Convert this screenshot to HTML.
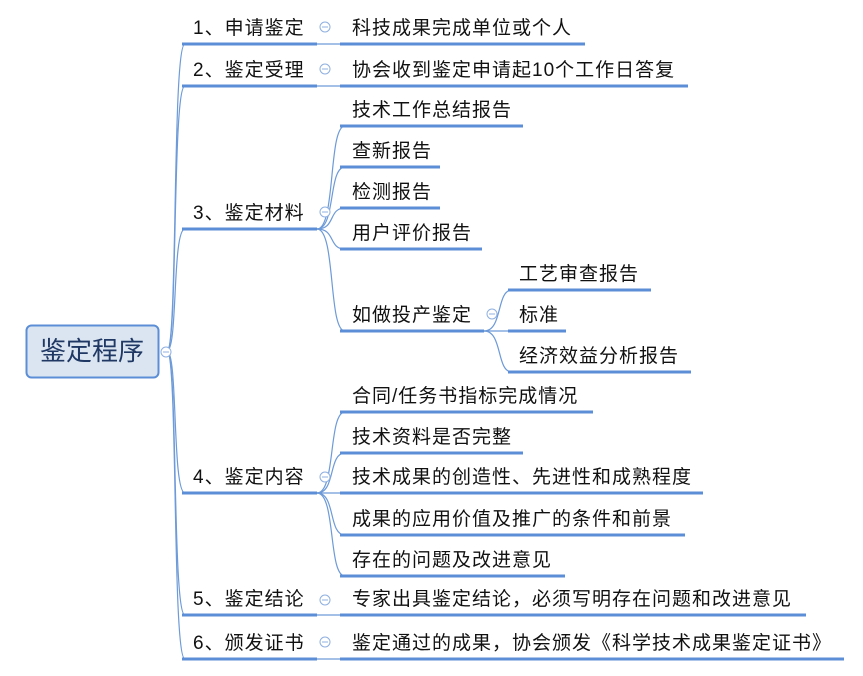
<!DOCTYPE html>
<html><head><meta charset="utf-8"><style>
html,body{margin:0;padding:0;background:#fff;}
svg{display:block;}
text{font-family:"Liberation Sans","Noto Sans CJK SC",sans-serif;font-size:19px;letter-spacing:1px;fill:#111;}
.u{stroke:#5b8ed6;stroke-width:3;fill:none;}
.c{stroke:#6d9ad8;stroke-width:1.2;fill:none;}
.o{stroke:#8fb0e0;stroke-width:1;fill:#fff;}
</style></head><body>
<svg width="863" height="676" viewBox="0 0 863 676" xmlns="http://www.w3.org/2000/svg">
<g class="c">
<path d="M167 351 C178 351,172 44,185 44"/>
<path d="M167 351 C178 351,172 86,185 86"/>
<path d="M167 351 C178 351,172 229,185 229"/>
<path d="M167 351 C178 351,172 493,185 493"/>
<path d="M167 351 C178 351,172 615,185 615"/>
<path d="M167 351 C178 351,172 659,185 659"/>
<line x1="317" y1="44" x2="340" y2="44"/>
<line x1="317" y1="86" x2="340" y2="86"/>
<line x1="317" y1="615" x2="340" y2="615"/>
<line x1="317" y1="659" x2="340" y2="659"/>
<path d="M317 229 C336 229,328 126,345 126"/>
<path d="M317 229 C336 229,328 167,345 167"/>
<path d="M317 229 C336 229,328 208,345 208"/>
<path d="M317 229 C336 229,328 249,345 249"/>
<path d="M317 229 C336 229,328 331,345 331"/>
<path d="M484 331 C503 331,496 290,512 290"/>
<line x1="484" y1="331" x2="512" y2="331"/>
<path d="M484 331 C503 331,496 372,512 372"/>
<path d="M317 493 C336 493,328 412,345 412"/>
<path d="M317 493 C336 493,328 453,345 453"/>
<line x1="317" y1="493" x2="345" y2="493"/>
<path d="M317 493 C336 493,328 535,345 535"/>
<path d="M317 493 C336 493,328 576,345 576"/>
</g>
<rect x="26.5" y="325.5" width="132" height="52" rx="5" fill="#dbe5f1" stroke="#5b8ed6" stroke-width="2"/>
<text x="92" y="360" text-anchor="middle" style="font-size:26px;letter-spacing:0;fill:#1f3864">鉴定程序</text>
<circle class="o" cx="166" cy="352" r="5"/><line x1="163" y1="352" x2="169" y2="352" stroke="#8fb0e0"/>
<g class="u">
<line x1="182" y1="44" x2="317" y2="44"/>
<line x1="182" y1="86" x2="317" y2="86"/>
<line x1="182" y1="229" x2="317" y2="229"/>
<line x1="182" y1="493" x2="317" y2="493"/>
<line x1="182" y1="615" x2="317" y2="615"/>
<line x1="182" y1="659" x2="317" y2="659"/>
<line x1="340" y1="44" x2="585" y2="44"/>
<line x1="340" y1="86" x2="688" y2="86"/>
<line x1="340" y1="126" x2="523" y2="126"/>
<line x1="340" y1="167" x2="440" y2="167"/>
<line x1="340" y1="208" x2="440" y2="208"/>
<line x1="340" y1="249" x2="482" y2="249"/>
<line x1="340" y1="331" x2="484" y2="331"/>
<line x1="508" y1="290" x2="651" y2="290"/>
<line x1="508" y1="331" x2="566" y2="331"/>
<line x1="508" y1="372" x2="691" y2="372"/>
<line x1="340" y1="412" x2="593" y2="412"/>
<line x1="340" y1="453" x2="523" y2="453"/>
<line x1="340" y1="493" x2="703" y2="493"/>
<line x1="340" y1="535" x2="685" y2="535"/>
<line x1="340" y1="576" x2="565" y2="576"/>
<line x1="340" y1="615" x2="806" y2="615"/>
<line x1="340" y1="659" x2="844" y2="659"/>
</g>
<g>
<text x="193" y="34">1、申请鉴定</text>
<text x="193" y="76">2、鉴定受理</text>
<text x="193" y="219">3、鉴定材料</text>
<text x="193" y="483">4、鉴定内容</text>
<text x="193" y="605">5、鉴定结论</text>
<text x="193" y="649">6、颁发证书</text>
<text x="352" y="34">科技成果完成单位或个人</text>
<text x="352" y="76">协会收到鉴定申请起10个工作日答复</text>
<text x="352" y="116">技术工作总结报告</text>
<text x="352" y="157">查新报告</text>
<text x="352" y="198">检测报告</text>
<text x="352" y="239">用户评价报告</text>
<text x="352" y="321">如做投产鉴定</text>
<text x="519" y="280">工艺审查报告</text>
<text x="519" y="321">标准</text>
<text x="519" y="362">经济效益分析报告</text>
<text x="352" y="402">合同/任务书指标完成情况</text>
<text x="352" y="443">技术资料是否完整</text>
<text x="352" y="483">技术成果的创造性、先进性和成熟程度</text>
<text x="352" y="525">成果的应用价值及推广的条件和前景</text>
<text x="352" y="566">存在的问题及改进意见</text>
<text x="352" y="605">专家出具鉴定结论，必须写明存在问题和改进意见</text>
<text x="352" y="649">鉴定通过的成果，协会颁发《科学技术成果鉴定证书》</text>
</g>
<g>
<circle class="o" cx="325" cy="27" r="5"/><line x1="322" y1="27" x2="328" y2="27" stroke="#8fb0e0"/>
<circle class="o" cx="325" cy="69" r="5"/><line x1="322" y1="69" x2="328" y2="69" stroke="#8fb0e0"/>
<circle class="o" cx="325" cy="212" r="5"/><line x1="322" y1="212" x2="328" y2="212" stroke="#8fb0e0"/>
<circle class="o" cx="325" cy="477" r="5"/><line x1="322" y1="477" x2="328" y2="477" stroke="#8fb0e0"/>
<circle class="o" cx="325" cy="600" r="5"/><line x1="322" y1="600" x2="328" y2="600" stroke="#8fb0e0"/>
<circle class="o" cx="325" cy="642" r="5"/><line x1="322" y1="642" x2="328" y2="642" stroke="#8fb0e0"/>
<circle class="o" cx="492" cy="314" r="5"/><line x1="489" y1="314" x2="495" y2="314" stroke="#8fb0e0"/>
</g>
</svg>
</body></html>
